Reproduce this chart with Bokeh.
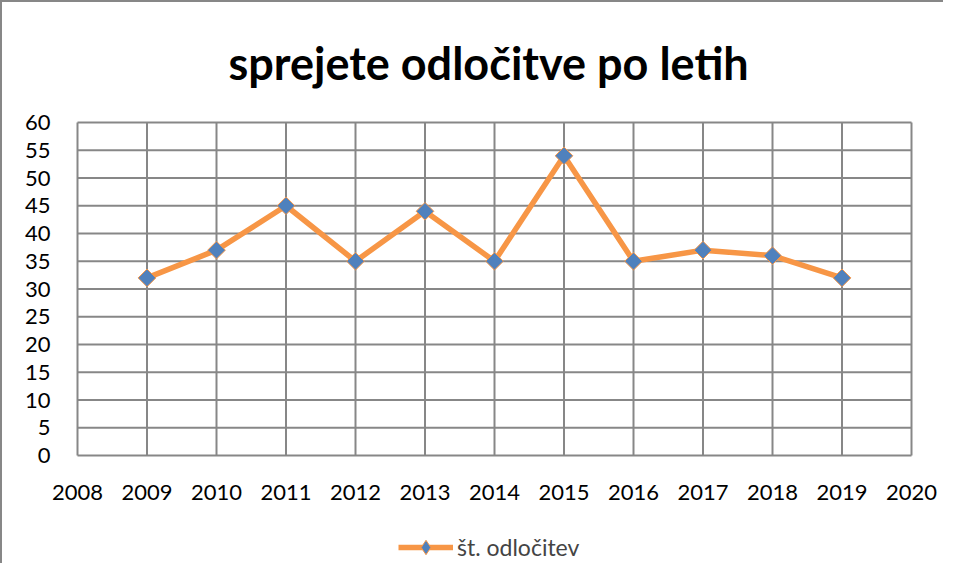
from bokeh.plotting import figure
from bokeh.models import Range1d, FixedTicker, Legend, LegendItem
from bokeh.core.properties import value
from bokeh.embed import file_html
from bokeh.resources import INLINE

years = [2009, 2010, 2011, 2012, 2013, 2014, 2015, 2016, 2017, 2018, 2019]
counts = [32, 37, 45, 35, 44, 35, 54, 35, 37, 36, 32]
x_ticks = list(range(2008, 2021))
y_ticks = list(range(0, 61, 5))
title_text = "sprejete odločitve po letih"
series_name = "št. odločitev"

FONT = "Lato"
GRID = "#878787"
ORANGE = "#F79646"
BLUE = "#4F81BD"

# layout (page pixels)
W, H = 943, 563
BORDER = 2
PX_LEFT, PX_RIGHT = 77, 911      # screen x of first / last x tick
PX_TOP, PX_ZERO = 122, 455       # screen y of top / zero value
FRAME_L, FRAME_R = 50, 940       # extended frame so edge labels are not clipped
LABEL_PX = 492                   # screen y of x tick label centres
TITLE_X, TITLE_BASE = 228, 62    # title left edge / baseline anchor

X0, X1 = x_ticks[0], x_ticks[-1]
Y0, Y1 = y_ticks[0], y_ticks[-1]
ppx = (PX_RIGHT - PX_LEFT) / (X1 - X0)
ppy = (PX_ZERO - PX_TOP) / (Y1 - Y0)
x_start = X0 - (PX_LEFT - FRAME_L) / ppx
x_end = X1 + (FRAME_R - PX_RIGHT) / ppx
y_start = Y0 - (H + BORDER - PX_ZERO) / ppy
y_end = Y1 + (PX_TOP - BORDER) / ppy
label_y = Y0 - (LABEL_PX - PX_ZERO) / ppy
title_x = X0 + (TITLE_X - PX_LEFT) / ppx
title_y = Y1 + (PX_TOP - TITLE_BASE) / ppy

p = figure(width=W, height=H, output_backend="svg", toolbar_location=None,
           x_range=Range1d(x_start, x_end), y_range=Range1d(y_start, y_end),
           x_axis_location=None,
           min_border_left=FRAME_L - BORDER, min_border_right=W + BORDER - FRAME_R,
           min_border_top=0, min_border_bottom=0,
           styles={"border-left": "2px solid #878787", "border-top": "2px solid #878787"})

p.outline_line_color = None
p.xgrid.visible = False
p.ygrid.visible = False

p.yaxis.axis_line_color = None
p.yaxis.major_tick_line_color = None
p.yaxis.minor_tick_line_color = None
p.yaxis.major_label_text_font = FONT
p.yaxis.major_label_text_font_size = "22px"
p.yaxis.major_label_text_color = "black"
p.yaxis.ticker = FixedTicker(ticks=y_ticks)
p.yaxis.major_label_standoff = 0
p.yaxis.major_tick_out = 0

# chart title
p.text(x=[title_x], y=[title_y], text=[title_text],
       text_font=value(FONT), text_font_size="45px", text_font_style="bold",
       text_color="black", text_align="left", text_baseline="alphabetic")

# grid lines limited to the value range
p.segment(x0=x_ticks, y0=[Y0] * len(x_ticks), x1=x_ticks, y1=[Y1] * len(x_ticks),
          line_color=GRID, line_width=2)
p.segment(x0=[X0] * len(y_ticks), y0=y_ticks, x1=[X1] * len(y_ticks), y1=y_ticks,
          line_color=GRID, line_width=2)

# x tick labels
p.text(x=x_ticks, y=[label_y] * len(x_ticks), text=[str(t) for t in x_ticks],
       text_font=value(FONT), text_font_size="22px", text_color="black",
       text_align="center", text_baseline="middle")

ln = p.line(years, counts, line_color=ORANGE, line_width=5.5, line_join="round")
# diamond renderer (hidden under the rotated squares) used for the legend swatch
lg = p.scatter(years, counts, marker="diamond", size=13,
               fill_color=BLUE, line_color=ORANGE, line_width=1)
mk = p.scatter(years, counts, marker="square", angle=0.785398, size=12.5,
               fill_color=BLUE, line_color=ORANGE, line_width=1)

legend = Legend(items=[LegendItem(label=series_name, renderers=[ln, lg])],
                location=(398 - FRAME_L, 0), orientation="horizontal",
                label_text_font=FONT, label_text_font_size="23px",
                glyph_width=55, glyph_height=36, padding=0, margin=0,
                border_line_color=None, background_fill_alpha=0,
                label_standoff=4)
p.add_layout(legend, "center")

open("out.html", "w").write(file_html(p, INLINE))
